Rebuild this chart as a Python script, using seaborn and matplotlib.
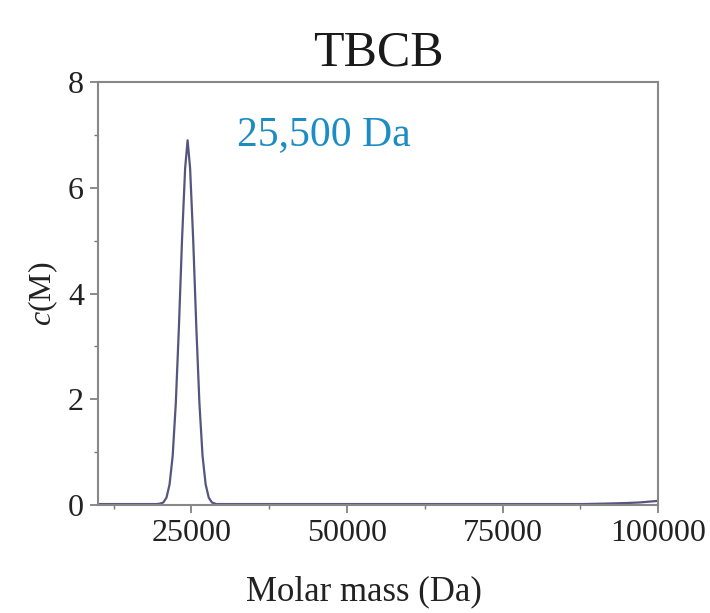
import numpy as np
import pandas as pd
import seaborn as sns
import matplotlib.pyplot as plt
from matplotlib.ticker import MultipleLocator

# c(M) distribution
molar_mass = [10000, 14000, 18000, 19500, 20000, 20500, 21000, 21500, 22000, 22500,
              23000, 23500, 24000, 24400, 24800, 25300, 25800, 26300, 26800, 27300,
              27800, 28300, 29000, 32000, 40000, 50000, 60000, 70000, 80000, 88000,
              92000, 95000, 97000, 99000, 100000]
c_m = [0.02, 0.02, 0.02, 0.02, 0.03, 0.05, 0.14, 0.39, 0.93, 1.92,
       3.36, 5.01, 6.37, 6.90, 6.37, 5.01, 3.36, 1.92, 0.93, 0.39,
       0.14, 0.05, 0.02, 0.02, 0.02, 0.02, 0.02, 0.02, 0.02, 0.02,
       0.03, 0.04, 0.05, 0.07, 0.08]

peak_label = "25,500 Da"
title = "TBCB"

df = pd.DataFrame({"mass": molar_mass, "c": c_m})

sns.set_style("white")
plt.rcParams["font.family"] = ["Liberation Serif", "DejaVu Serif"]
plt.rcParams["mathtext.fontset"] = "custom"
plt.rcParams["mathtext.it"] = "Liberation Serif:italic"
plt.rcParams["mathtext.rm"] = "Liberation Serif"

fig = plt.figure(figsize=(7.1, 6.13), dpi=100)
ax = fig.add_axes([0.138, 0.176, 0.789, 0.690])

sns.lineplot(data=df, x="mass", y="c", ax=ax, color="#55557f", linewidth=1.6)

ax.set_xlim(10000, 100000)
ax.set_ylim(0, 8)
ax.xaxis.set_major_locator(MultipleLocator(25000))
ax.xaxis.set_minor_locator(MultipleLocator(12500))
ax.yaxis.set_major_locator(MultipleLocator(2))
ax.yaxis.set_minor_locator(MultipleLocator(1))
ax.tick_params(which="major", direction="out", length=6, width=1.2, color="#777777",
               labelsize=23, labelcolor="#222222", bottom=True, left=True, pad=4)
ax.tick_params(which="minor", direction="out", length=3, width=1, color="#777777",
               bottom=True, left=True)

for s in ax.spines.values():
    s.set_color("#888888")
    s.set_linewidth(1.5)

ax.set_title(title, fontsize=36, pad=12, color="#1a1a1a")
ax.set_xlabel("Molar mass (Da)", fontsize=25, color="#222222")
ax.xaxis.set_label_coords(0.475, -0.165)
ax.set_ylabel(r"$c$(M)", fontsize=23, labelpad=6, color="#222222")

ax.text(32400, 7.0, peak_label, color="#1c8cc4", fontsize=30, va="center", ha="left")

fig.savefig("out.png", dpi=100)
